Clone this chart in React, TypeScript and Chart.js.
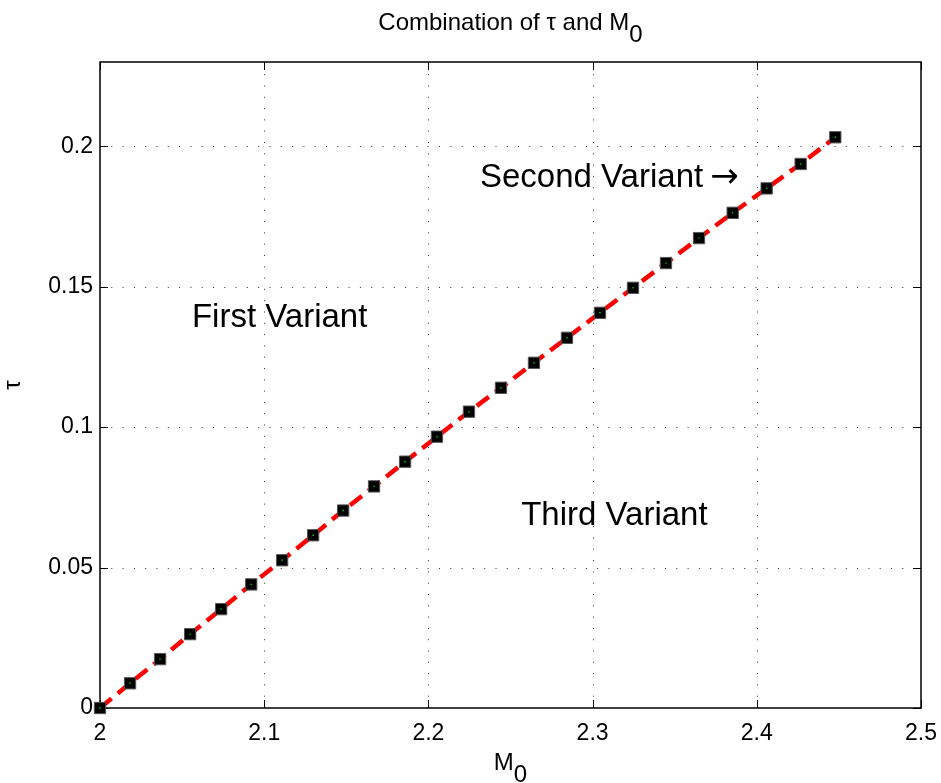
import React, { useEffect, useRef } from 'react';
import { Chart, registerables } from 'chart.js';

Chart.register(...registerables);

// Mach number M0 and the matching tau value at each computed point
const m0Values = [
  2.0, 2.0183, 2.0366, 2.0549, 2.0738, 2.0921, 2.1109, 2.1298, 2.1481, 2.1669, 2.1858, 2.2052,
  2.2247, 2.2442, 2.2643, 2.2844, 2.3045, 2.3246, 2.3447, 2.3648, 2.3853, 2.406, 2.4267, 2.4478,
];
const tauValues = [
  0, 0.0088, 0.0174, 0.0263, 0.0352, 0.044, 0.0526, 0.0615, 0.0703, 0.0789, 0.0877, 0.0966,
  0.1055, 0.114, 0.1229, 0.1318, 0.1407, 0.1496, 0.1584, 0.1673, 0.1763, 0.185, 0.1937, 0.2032,
];

const xTicks = [2, 2.1, 2.2, 2.3, 2.4, 2.5];
const xTickLabels = ['2', '2.1', '2.2', '2.3', '2.4', '2.5'];
const yTicks = [0, 0.05, 0.1, 0.15, 0.2];
const yTickLabels = ['0', '0.05', '0.1', '0.15', '0.2'];

// Region names, anchored (left edge, baseline) in data units
const regionLabels = ['First Variant', 'Second Variant', 'Third Variant'];
const regionArrows = ['', '\u2192', ''];
const regionLabelM0 = [2.056, 2.2314, 2.2565];
const regionLabelTau = [0.1357, 0.1854, 0.065];

const FONT = '"Liberation Sans", Arial, Helvetica, sans-serif';
const SYMBOL_FONT = '"DejaVu Sans", sans-serif';

type Part = [string, boolean];

function drawParts(ctx: CanvasRenderingContext2D, parts: Part[], cx: number, baseline: number, subDrop: number) {
  let total = 0;
  for (const [t] of parts) total += ctx.measureText(t).width;
  let x = cx - total / 2;
  ctx.textAlign = 'left';
  ctx.textBaseline = 'alphabetic';
  for (const [t, sub] of parts) {
    ctx.fillText(t, x, baseline + (sub ? subDrop : 0));
    x += ctx.measureText(t).width;
  }
}

const axesBox = {
  id: 'axesBox',
  beforeDatasetsDraw(chart: any) {
    const { ctx, chartArea: a, scales } = chart;
    const xs = scales.x;
    const ys = scales.y;
    ctx.save();
    // dotted grid
    ctx.strokeStyle = '#333';
    ctx.lineWidth = 1;
    ctx.setLineDash([1, 10.3]);
    for (const v of xTicks) {
      if (v <= xs.min || v >= xs.max) continue;
      const px = Math.round(xs.getPixelForValue(v)) + 0.5;
      ctx.beginPath();
      ctx.moveTo(px, a.bottom);
      ctx.lineTo(px, a.top);
      ctx.stroke();
    }
    for (const v of yTicks) {
      if (v <= ys.min || v >= ys.max) continue;
      const py = Math.round(ys.getPixelForValue(v)) + 0.5;
      ctx.beginPath();
      ctx.moveTo(a.left, py);
      ctx.lineTo(a.right, py);
      ctx.stroke();
    }
    ctx.setLineDash([]);
    // inward tick marks on all four sides
    const tl = 8;
    ctx.strokeStyle = '#000';
    ctx.lineWidth = 1;
    ctx.beginPath();
    for (const v of xTicks) {
      const px = Math.round(xs.getPixelForValue(v)) + 0.5;
      ctx.moveTo(px, a.bottom);
      ctx.lineTo(px, a.bottom - tl);
      ctx.moveTo(px, a.top);
      ctx.lineTo(px, a.top + tl);
    }
    for (const v of yTicks) {
      const py = Math.round(ys.getPixelForValue(v)) + 0.5;
      ctx.moveTo(a.left, py);
      ctx.lineTo(a.left + tl, py);
      ctx.moveTo(a.right, py);
      ctx.lineTo(a.right - tl, py);
    }
    ctx.stroke();
    // box
    ctx.lineWidth = 1.5;
    ctx.strokeRect(a.left, a.top, a.right - a.left, a.bottom - a.top);
    ctx.restore();
  },
  afterDraw(chart: any) {
    const { ctx, chartArea: a, scales } = chart;
    const xs = scales.x;
    const ys = scales.y;
    const cx = (a.left + a.right) / 2;
    ctx.save();
    ctx.fillStyle = '#000';
    // title
    ctx.font = `24px ${FONT}`;
    drawParts(ctx, [['Combination of \u03c4 and M', false], ['0', true]], cx, a.top - 32, 12);
    // x axis label
    ctx.font = `24px ${FONT}`;
    drawParts(ctx, [['M', false], ['0', true]], cx, a.bottom + 62, 12);
    // y axis label
    ctx.save();
    ctx.translate(a.left - 80, (a.top + a.bottom) / 2);
    ctx.rotate(-Math.PI / 2);
    ctx.textAlign = 'center';
    ctx.textBaseline = 'alphabetic';
    ctx.fillText('\u03c4', 0, 0);
    ctx.restore();
    // region names
    ctx.textAlign = 'left';
    ctx.textBaseline = 'alphabetic';
    regionLabels.forEach((t, i) => {
      const px = xs.getPixelForValue(regionLabelM0[i]);
      const py = ys.getPixelForValue(regionLabelTau[i]);
      ctx.font = `33px ${FONT}`;
      ctx.fillText(t, px, py);
      if (regionArrows[i]) {
        const w = ctx.measureText(t + ' ').width;
        ctx.font = `34px ${SYMBOL_FONT}`;
        ctx.fillText(regionArrows[i], px + w - 2, py);
      }
    });
    ctx.restore();
  },
};

export default function App() {
  const canvasRef = useRef<HTMLCanvasElement | null>(null);

  useEffect(() => {
    const canvas = canvasRef.current;
    if (!canvas) return;
    const pts = m0Values.map((m, i) => ({ x: m, y: tauValues[i] }));
    const tickFont = { family: FONT, size: 23 };
    const chart = new Chart(canvas, {
      type: 'scatter',
      data: {
        datasets: [
          {
            label: 'centre',
            data: pts,
            showLine: false,
            pointStyle: 'rect',
            pointRadius: 1,
            pointBackgroundColor: '#00c800',
            pointBorderWidth: 0,
            order: 0,
            clip: false,
          },
          {
            label: 'markers',
            data: pts,
            showLine: false,
            pointStyle: 'rect',
            pointRadius: 8,
            pointBackgroundColor: '#000',
            pointBorderColor: '#555',
            pointBorderWidth: 1,
            order: 1,
            clip: false,
          },
          {
            label: 'curve',
            data: pts,
            showLine: true,
            borderColor: '#ff0000',
            borderWidth: 4.5,
            borderDash: [15, 8],
            borderCapStyle: 'butt',
            pointRadius: 0,
            tension: 0,
            order: 2,
            clip: false,
          },
        ],
      } as any,
      options: {
        responsive: false,
        animation: false,
        events: [],
        layout: { padding: { left: 0, right: 20, top: 62, bottom: 0 } },
        plugins: { legend: { display: false }, tooltip: { enabled: false }, title: { display: false } },
        scales: {
          x: {
            type: 'linear',
            min: 2,
            max: 2.5,
            afterBuildTicks: (s: any) => {
              s.ticks = xTicks.map((v) => ({ value: v }));
            },
            afterFit: (s: any) => {
              s.height = 75;
              s.paddingLeft = 0;
              s.paddingRight = 0;
            },
            ticks: {
              callback: (_v: any, i: number) => xTickLabels[i],
              font: tickFont,
              color: '#000',
              padding: 12,
              maxRotation: 0,
              autoSkip: false,
            },
            grid: { display: false, drawTicks: false },
            border: { display: false },
          },
          y: {
            type: 'linear',
            min: 0,
            max: 0.23,
            afterBuildTicks: (s: any) => {
              s.ticks = yTicks.map((v) => ({ value: v }));
            },
            afterFit: (s: any) => {
              s.width = 100;
              s.paddingTop = 0;
              s.paddingBottom = 0;
            },
            ticks: {
              callback: (_v: any, i: number) => yTickLabels[i],
              font: tickFont,
              color: '#000',
              padding: 7,
              autoSkip: false,
            },
            grid: { display: false, drawTicks: false },
            border: { display: false },
          },
        },
      } as any,
      plugins: [axesBox],
    });
    return () => chart.destroy();
  }, []);

  return (
    <div style={{ position: 'fixed', left: 0, top: 0, width: 941, height: 783, background: '#fff' }}>
      <canvas ref={canvasRef} width={941} height={783} style={{ display: 'block' }} />
    </div>
  );
}
